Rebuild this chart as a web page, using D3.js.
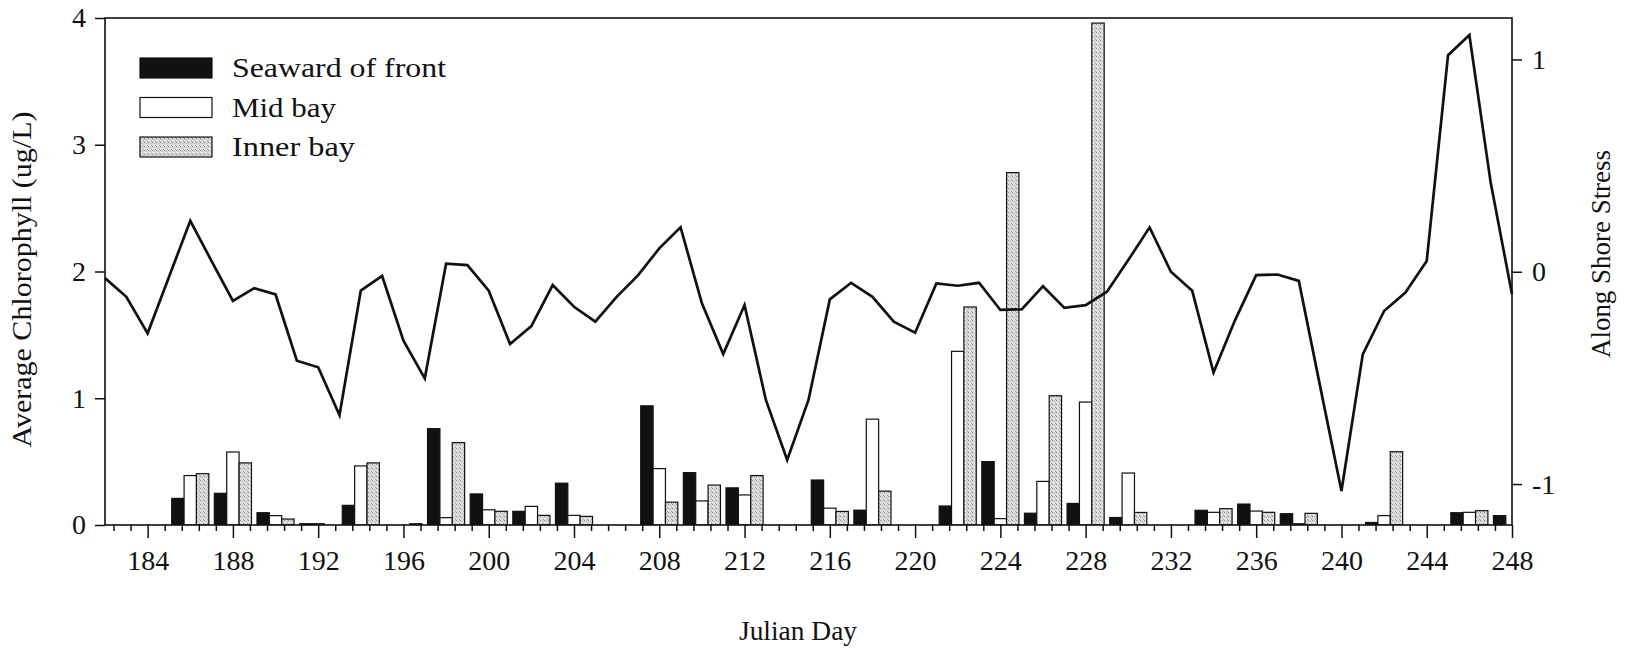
<!DOCTYPE html>
<html>
<head>
<meta charset="utf-8">
<script src="https://cdn.jsdelivr.net/npm/d3@7"></script>
<style>
  body { margin: 0; background: #fff; }
  svg text { font-family: "Liberation Serif", "DejaVu Serif", serif; fill: #111; }
</style>
</head>
<body>
<svg width="1631" height="653"></svg>
<script>
// bar samples, every second Julian day
const groupDays = [184, 186, 188, 190, 192, 194, 196, 198, 200, 202, 204, 206, 208, 210, 212, 214, 216,
  218, 220, 222, 224, 226, 228, 230, 232, 234, 236, 238, 240, 242, 244, 246, 248];
const seaward = [0, 0.21, 0.25, 0.097, 0.01, 0.155, 0, 0.76, 0.245, 0.108, 0.33, 0, 0.94, 0.413, 0.293, 0, 0.355,
  0.117, 0, 0.15, 0.5, 0.093, 0.17, 0.059, 0, 0.116, 0.165, 0.089, 0, 0.02, 0, 0.097, 0.074];
const midBay = [0, 0.39, 0.576, 0.074, 0.01, 0.466, 0, 0.058, 0.12, 0.147, 0.076, 0, 0.445, 0.19, 0.237, 0, 0.133,
  0.835, 0, 1.37, 0.05, 0.344, 0.97, 0.41, 0, 0.10, 0.11, 0.01, 0, 0.074, 0, 0.10, 0];
const innerBay = [0, 0.405, 0.49, 0.047, 0, 0.49, 0.01, 0.65, 0.108, 0.076, 0.068, 0, 0.18, 0.315, 0.39, 0, 0.107,
  0.267, 0, 1.72, 2.78, 1.02, 3.96, 0.099, 0, 0.129, 0.10, 0.092, 0, 0.578, 0, 0.113, 0];

// daily along shore stress
const stressDays = [182, 183, 184, 185, 186, 187, 188, 189, 190, 191, 192, 193, 194, 195, 196, 197, 198, 199,
  200, 201, 202, 203, 204, 205, 206, 207, 208, 209, 210, 211, 212, 213, 214, 215, 216, 217, 218, 219, 220, 221,
  222, 223, 224, 225, 226, 227, 228, 229, 230, 231, 232, 233, 234, 235, 236, 237, 238, 239, 240, 241, 242, 243,
  244, 245, 246, 247, 248];
const stress = [-0.03, -0.118, -0.29, -0.025, 0.24, 0.05, -0.137, -0.077, -0.107, -0.419, -0.45, -0.675, -0.089,
  -0.02, -0.325, -0.502, 0.038, 0.031, -0.089, -0.34, -0.256, -0.063, -0.165, -0.235, -0.118, -0.017, 0.11, 0.209,
  -0.149, -0.388, -0.157, -0.604, -0.887, -0.604, -0.13, -0.052, -0.118, -0.235, -0.287, -0.055, -0.066, -0.052,
  -0.18, -0.177, -0.068, -0.17, -0.157, -0.094, 0.055, 0.209, 0.0, -0.09, -0.475, -0.23, -0.016, -0.013, -0.043,
  -0.54, -1.033, -0.389, -0.185, -0.098, 0.051, 1.02, 1.115, 0.42, -0.106];

const dayTicks = [184, 188, 192, 196, 200, 204, 208, 212, 216, 220, 224, 228, 232, 236, 240, 244, 248];
const chlTicks = [0, 1, 2, 3, 4];
const stressTicks = [-1, 0, 1];
const seriesNames = ["Seaward of front", "Mid bay", "Inner bay"];

const svg = d3.select("svg");
const plotL = 105, plotR = 1512, plotT = 18, plotB = 525;

const x = d3.scaleLinear().domain([182, 248]).range([plotL, plotR]);
const yL = d3.scaleLinear().domain([0, 4]).range([plotB, plotT]);
const yR = d3.scaleLinear().domain([-1.2, 1.2]).range([526.5, 17]);

// stipple fill for the inner bay bars
const defs = svg.append("defs");
const pat = defs.append("pattern")
  .attr("id", "stipple")
  .attr("width", 4).attr("height", 4)
  .attr("patternUnits", "userSpaceOnUse");
pat.append("rect").attr("width", 4).attr("height", 4).attr("fill", "#d8d8d8");
[[0, 0, "#8c8c8c"], [2, 1, "#b4b4b4"], [1, 2, "#f2f2f2"], [3, 3, "#a0a0a0"], [2, 3, "#ececec"]].forEach(p => {
  pat.append("rect").attr("x", p[0]).attr("y", p[1]).attr("width", 1).attr("height", 1).attr("fill", p[2]);
});
defs.append("clipPath").attr("id", "plot")
  .append("rect").attr("x", plotL).attr("y", plotT).attr("width", plotR - plotL).attr("height", plotB - plotT);

const fills = ["#111", "#fff", "url(#stipple)"];
const bw = 0.58;

const rows = groupDays.map((d, i) => ({ day: d, vals: [seaward[i], midBay[i], innerBay[i]] }));

const barLayer = svg.append("g").attr("clip-path", "url(#plot)");
rows.forEach(r => {
  r.vals.forEach((v, k) => {
    if (v <= 0) return;
    const c = r.day + (k - 1) * bw;
    barLayer.append("rect")
      .attr("x", x(c - bw / 2))
      .attr("y", yL(v))
      .attr("width", x(c + bw / 2) - x(c - bw / 2))
      .attr("height", yL(0) - yL(v))
      .attr("fill", fills[k])
      .attr("stroke", "#111")
      .attr("stroke-width", 1.2);
  });
});

// stress line
const line = d3.line()
  .x((d, i) => x(stressDays[i]))
  .y(d => yR(d));

svg.append("path")
  .datum(stress)
  .attr("d", line)
  .attr("fill", "none")
  .attr("stroke", "#111")
  .attr("stroke-width", 2.7)
  .attr("stroke-linejoin", "miter");

// axes
const minorTicks = [];
for (let d = 182.4; d < 248; d += 0.8) {
  if (Math.abs((d - 184) / 4 - Math.round((d - 184) / 4)) > 0.01) minorTicks.push(d);
}

svg.append("g")
  .attr("transform", `translate(0,${plotB})`)
  .call(d3.axisBottom(x).tickValues(minorTicks).tickSize(6).tickFormat(""))
  .call(g => g.select(".domain").remove());

svg.append("g")
  .attr("transform", `translate(0,${plotB})`)
  .call(d3.axisBottom(x).tickValues(dayTicks).tickSize(13).tickPadding(12).tickFormat(d3.format("d")))
  .call(g => g.select(".domain").remove());

svg.append("g")
  .attr("transform", `translate(${plotL},0)`)
  .call(d3.axisLeft(yL).tickValues(chlTicks).tickSize(10).tickPadding(9).tickFormat(d3.format("d")))
  .call(g => g.select(".domain").remove());

svg.append("g")
  .attr("transform", `translate(${plotR},0)`)
  .call(d3.axisRight(yR).tickValues(stressTicks).tickSize(10).tickPadding(10).tickFormat(d => d))
  .call(g => g.select(".domain").remove());

svg.selectAll("g[font-family]").attr("font-family", null);
svg.selectAll(".tick line").attr("stroke", "#111").attr("stroke-width", 1.5);
svg.selectAll(".tick text")
  .attr("font-size", 28)
  .attr("fill", "#111");

// frame
svg.append("rect")
  .attr("x", plotL).attr("y", plotT)
  .attr("width", plotR - plotL).attr("height", plotB - plotT)
  .attr("fill", "none")
  .attr("stroke", "#111")
  .attr("stroke-width", 1.6);

// axis titles
svg.append("text")
  .attr("transform", `translate(31,${(plotT + plotB) / 2 + 8}) rotate(-90)`)
  .attr("text-anchor", "middle")
  .attr("font-size", 27)
  .attr("textLength", 336)
  .attr("lengthAdjust", "spacingAndGlyphs")
  .text("Average Chlorophyll (ug/L)");

svg.append("text")
  .attr("transform", `translate(1610,254) rotate(-90)`)
  .attr("text-anchor", "middle")
  .attr("font-size", 27)
  .attr("textLength", 208)
  .attr("lengthAdjust", "spacingAndGlyphs")
  .text("Along Shore Stress");

svg.append("text")
  .attr("x", 798).attr("y", 640)
  .attr("text-anchor", "middle")
  .attr("font-size", 28)
  .attr("textLength", 118)
  .attr("lengthAdjust", "spacingAndGlyphs")
  .text("Julian Day");

// legend
const legendWidths = [214, 104, 123];
const legend = svg.append("g").attr("transform", "translate(140,58)");
seriesNames.forEach((name, k) => {
  const gy = k * 39.5;
  legend.append("rect")
    .attr("x", 0).attr("y", gy)
    .attr("width", 72).attr("height", 20)
    .attr("fill", fills[k])
    .attr("stroke", "#111")
    .attr("stroke-width", 1.2);
  legend.append("text")
    .attr("x", 92).attr("y", gy + 19)
    .attr("font-size", 28)
    .attr("textLength", legendWidths[k])
    .attr("lengthAdjust", "spacingAndGlyphs")
    .text(name);
});
</script>
</body>
</html>
